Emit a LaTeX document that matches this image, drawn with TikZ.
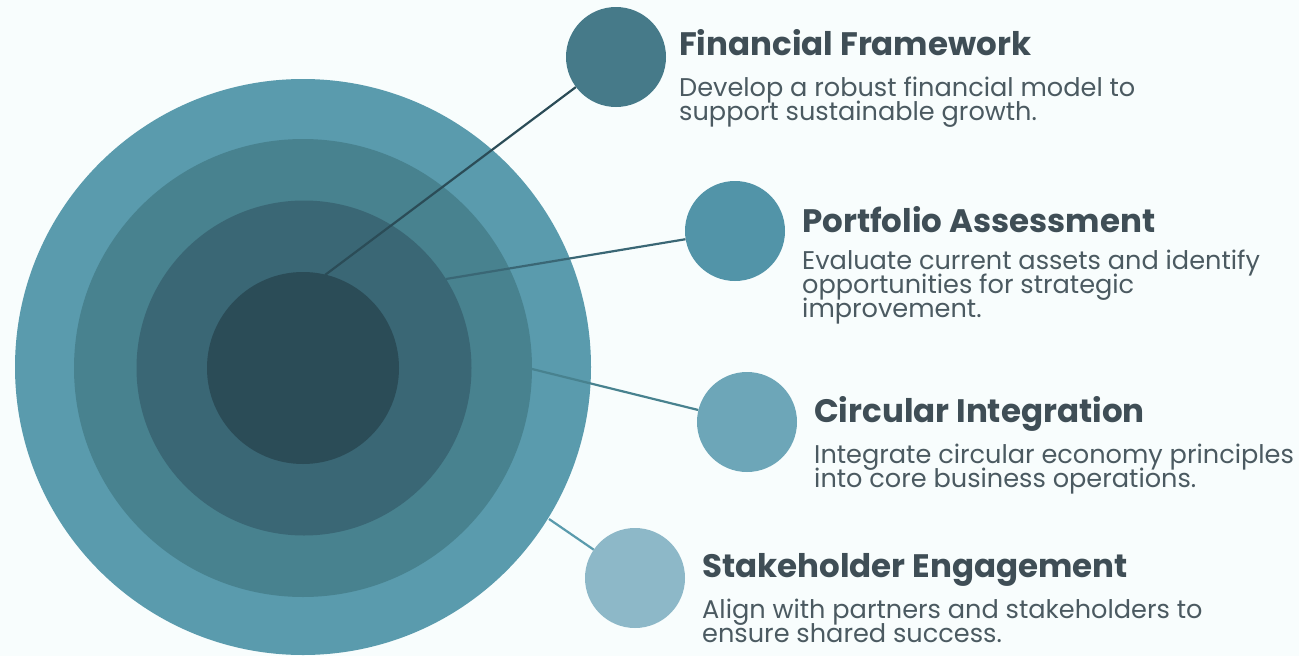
\documentclass[tikz,border=0pt]{standalone}
\usepackage{fontspec}
\setmainfont{Poppins}
\newcommand\mytightlines{\lineskiplimit=-60pt\lineskip=0pt\relax}
\definecolor{bg}{HTML}{F8FDFD}
\definecolor{ringA}{HTML}{5A9BAD}
\definecolor{ringB}{HTML}{48828F}
\definecolor{ringC}{HTML}{3A6775}
\definecolor{ringD}{HTML}{2B4C57}
\definecolor{dotA}{HTML}{467A89}
\definecolor{dotB}{HTML}{5294A8}
\definecolor{dotC}{HTML}{6DA6B8}
\definecolor{dotD}{HTML}{8DB8C8}
\definecolor{titlec}{HTML}{3F4E56}
\definecolor{bodyc}{HTML}{4B5A61}
\tikzset{
  ring/.style={circle, inner sep=0pt, draw=none},
  dot/.style={circle, inner sep=0pt, minimum size=100pt, draw=none},
  ttl/.style={anchor=base west, inner sep=0pt, text=titlec, font=\fontsize{32.5}{34}\selectfont\bfseries},
  bdy/.style={anchor=base west, inner sep=0pt, text=bodyc, align=left, font=\fontsize{25.6}{24}\selectfont\mytightlines},
  link/.style={line width=2.2pt}
}
\begin{document}
\begin{tikzpicture}[x=1pt,y=-1pt]
\fill[bg] (0,0) rectangle (1299,656);
\useasboundingbox (0,0) rectangle (1299,656);
% concentric rings
\node[ring, fill=ringA, minimum size=576pt] (r1) at (303,367) {};
\node[ring, fill=ringB, minimum size=458pt] (r2) at (303,368) {};
\node[ring, fill=ringC, minimum size=335pt] (r3) at (304,368) {};
\node[ring, fill=ringD, minimum size=192pt] (r4) at (303,368) {};
% small circles
\node[dot, fill=dotA] (d1) at (616,57) {};
\node[dot, fill=dotB] (d2) at (735,231) {};
\node[dot, fill=dotC] (d3) at (747,422) {};
\node[dot, fill=dotD] (d4) at (635,578) {};
% connector starts
\coordinate (s1) at (325,275);
\coordinate (s2) at (446,279);
\coordinate (s3) at (532,369);
\coordinate (s4) at (549,519);
\draw[link, draw=ringD] (s1) -- (d1);
\draw[link, draw=ringC] (s2) -- (d2);
\draw[link, draw=ringB] (s3) -- (d3);
\draw[link, draw=ringA] (s4) -- (d4);
% texts
\node[ttl] (t1) at (679,55) {Financial Framework};
\node[bdy] (b1) at (679,120) {Develop a robust financial model to\\support sustainable growth.};
\node[ttl] (t2) at (802,232) {Portfolio Assessment};
\node[bdy] (b2) at (802,317) {Evaluate current assets and identify\\opportunities for strategic\\improvement.};
\node[ttl] (t3) at (814,422) {Circular Integration};
\node[bdy] (b3) at (814,487) {Integrate circular economy principles\\into core business operations.};
\node[ttl] (t4) at (702,577) {Stakeholder Engagement};
\node[bdy] (b4) at (702,642) {Align with partners and stakeholders to\\ensure shared success.};
\end{tikzpicture}
\end{document}
